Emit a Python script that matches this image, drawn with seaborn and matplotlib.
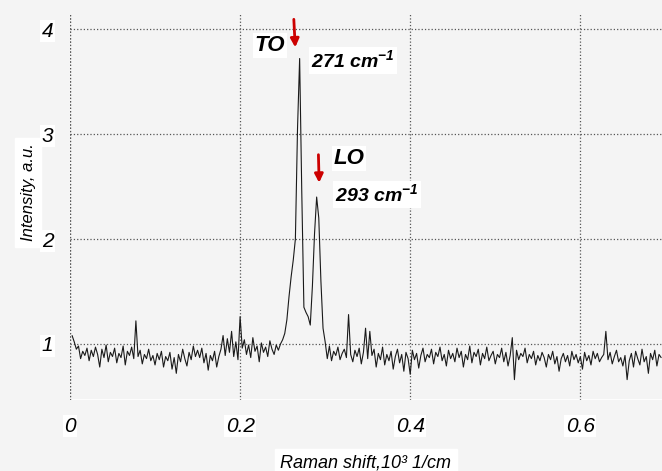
import numpy as np
import pandas as pd
import matplotlib.pyplot as plt
import seaborn as sns

# Raman spectrum (x in 10^3 1/cm, step 0.0025)
step = 0.0025
base_left = [
    1.08, 1.02, 0.95, 0.98, 0.86, 0.93, 0.89, 0.96, 0.84, 0.94,
    0.88, 0.97, 0.90, 0.78, 0.95, 0.87, 0.99, 0.83, 0.92, 0.88,
    0.96, 0.82, 0.91, 0.87, 0.98, 0.80, 0.93, 0.89, 0.97, 0.86,
    1.22, 0.88, 0.94, 0.81, 0.90, 0.86, 0.95, 0.84, 0.89, 0.80,
    0.91, 0.85, 0.93, 0.78, 0.88, 0.84, 0.92, 0.76, 0.87, 0.72,
    0.90, 0.83, 0.95, 0.86, 0.79, 0.92, 0.85, 0.98, 0.88, 0.94,
    0.87, 0.96, 0.82, 0.91, 0.75, 0.89, 0.84, 0.93, 0.78, 0.88,
    0.95, 1.08, 0.89, 1.05, 0.92, 1.12, 0.88, 1.02, 0.85, 1.26,
    0.96, 1.04, 0.90, 0.99, 0.87, 1.06, 0.93, 0.98, 0.83, 1.01,
    0.92, 0.97, 0.88, 1.03, 0.95, 0.90, 0.99, 0.94, 1.00,
]
peaks = [
    1.04, 1.10, 1.23, 1.45, 1.64, 1.80, 2.00, 3.05, 3.72, 2.45,
    1.35, 1.30, 1.26, 1.18, 1.55, 2.05, 2.40, 2.20, 1.60, 1.15, 1.02,
]
base_right = [
    0.86, 0.98, 0.84, 0.93, 0.89, 0.97, 0.85, 0.91, 0.95, 0.87,
    1.28, 0.90, 0.83, 0.94, 0.88, 0.96, 0.81, 0.92, 1.15, 0.86,
    1.12, 0.89, 0.95, 0.78, 0.91, 0.85, 0.97, 0.80, 0.90, 0.84,
    0.93, 0.76, 0.88, 0.95, 0.82, 0.90, 0.74, 0.92, 0.86, 0.71,
    0.94, 0.85, 0.91, 0.77, 0.89, 0.96, 0.83, 0.90, 0.87, 0.95,
    0.81, 0.92, 0.88, 0.97, 0.84, 0.90, 0.79, 0.94, 0.86, 0.91,
    0.83, 0.96, 0.87, 0.93, 0.78, 0.90, 0.85, 0.98, 0.82, 0.92,
    0.88, 0.95, 0.80, 0.91, 0.86, 0.97, 0.84, 0.89, 0.93, 0.81,
    0.90, 0.87, 0.96, 0.83, 0.92, 0.79, 0.89, 1.06, 0.66, 0.94,
    0.85, 0.91, 0.88, 0.96, 0.82, 0.90, 0.86, 0.93, 0.80, 0.89,
    0.84, 0.92, 0.87, 0.78, 0.90, 0.85, 0.93, 0.81, 0.88, 0.74,
    0.86, 0.91, 0.83, 0.89, 0.79, 0.93, 0.85, 0.90, 0.82, 0.88,
    0.76, 0.92, 0.84, 0.89, 0.80, 0.93, 0.86, 0.91, 0.83, 0.87,
    0.90, 1.12, 0.85, 0.92, 0.81, 0.88, 0.94, 0.83, 0.87, 0.79,
    0.89, 0.66, 0.84, 0.91, 0.78, 0.93, 0.86, 0.80, 0.95, 0.83,
    0.88, 0.72, 0.91, 0.85, 0.94, 0.79, 0.90, 0.87,
]
xticks = [0, 0.2, 0.4, 0.6]
xtick_labels = ["0", "0.2", "0.4", "0.6"]
yticks = [1, 2, 3, 4]

intensity = base_left + peaks + base_right
shift = np.round(step * np.arange(1, len(intensity) + 1), 4)
df = pd.DataFrame({"shift": shift, "intensity": intensity})

bg = "#f4f4f4"
sns.set_style("white", {"axes.facecolor": bg, "text.color": "black",
                        "axes.labelcolor": "black", "xtick.color": "black",
                        "ytick.color": "black"})
plt.rcParams["font.family"] = ["Liberation Sans", "DejaVu Sans"]
plt.rcParams["mathtext.fontset"] = "custom"
plt.rcParams["mathtext.rm"] = "Liberation Sans:bold:italic"

fig = plt.figure(figsize=(6.62, 4.71), dpi=100, facecolor=bg)
ax = fig.add_axes([0.1057, 0.151, 0.8943, 0.821])
sns.lineplot(data=df, x="shift", y="intensity", ax=ax, color="#1a1a1a",
             lw=0.8, estimator=None)

ax.set_xlim(0, 0.696)
ax.set_ylim(0.467, 4.152)
for s in ax.spines.values():
    s.set_visible(False)
ax.axhline(0.467, color="white", lw=2, zorder=0)

ax.set_xticks(xticks)
ax.set_yticks(yticks)
ax.grid(True, ls=":", color="#555555", lw=0.9)
ax.axvline(0, ls=":", color="#555555", lw=0.9)
ax.tick_params(length=0, pad=12)
ax.set_xticklabels(xtick_labels, fontsize=15, style="italic")
ax.set_yticklabels([str(t) for t in yticks], fontsize=15, style="italic")
for lab in ax.get_xticklabels() + ax.get_yticklabels():
    lab.set_bbox(dict(facecolor="white", edgecolor="none", pad=1))

ax.set_xlabel("Raman shift,10³ 1/cm", fontsize=13, style="italic",
              labelpad=14, backgroundcolor="white")
ax.set_ylabel("Intensity, a.u.", fontsize=12, style="italic",
              labelpad=2, backgroundcolor="white")
ax.yaxis.set_label_coords(-0.058, 0.537)

box = dict(facecolor="white", edgecolor="none", pad=1.5)
ax.text(0.235, 3.84, "TO", fontsize=16, fontweight="bold", style="italic",
        ha="center", va="center", bbox=box)
ax.text(0.333, 3.70, "271 cm$^{\\mathregular{-1}}$", fontsize=14,
        fontweight="bold", style="italic", ha="center", va="center", bbox=box)
ax.text(0.328, 2.77, "LO", fontsize=16, fontweight="bold", style="italic",
        ha="center", va="center", bbox=box)
ax.text(0.361, 2.42, "293 cm$^{\\mathregular{-1}}$", fontsize=14,
        fontweight="bold", style="italic", ha="center", va="center", bbox=box)

arrow = dict(arrowstyle="-|>,head_width=0.25,head_length=0.5",
             color="#cc0000", lw=2)
ax.annotate("", xy=(0.265, 3.80), xytext=(0.263, 4.12), arrowprops=arrow)
ax.annotate("", xy=(0.293, 2.51), xytext=(0.292, 2.83), arrowprops=arrow)

fig.savefig("out.png", dpi=100, facecolor=bg)
